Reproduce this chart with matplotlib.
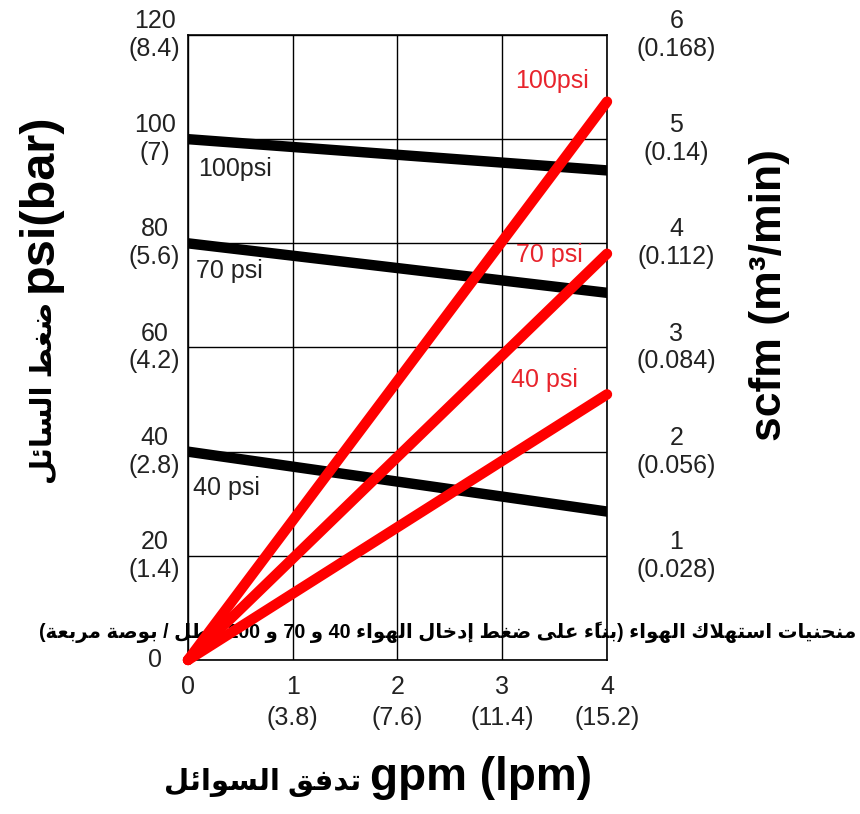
import re
import matplotlib
matplotlib.use("Agg")
import matplotlib.pyplot as plt

plt.rcParams['font.family'] = ['Liberation Sans', 'DejaVu Sans']

# data
gpm = [0, 4]
psi_100 = [100, 94]
psi_70 = [80, 70.5]
psi_40 = [40, 28.5]
scfm_100 = [0, 5.36]
scfm_70 = [0, 3.9]
scfm_40 = [0, 2.55]

psi_ticks = [0, 20, 40, 60, 80, 100, 120]
psi_labels = ["0", "20\n(1.4)", "40\n(2.8)", "60\n(4.2)", "80\n(5.6)", "100\n(7)", "120\n(8.4)"]
gpm_ticks = [0, 1, 2, 3, 4]
gpm_labels = ["0", "1\n(3.8)", "2\n(7.6)", "3\n(11.4)", "4\n(15.2)"]
scfm_ticks = [1, 2, 3, 4, 5, 6]
scfm_labels = ["1\n(0.028)", "2\n(0.056)", "3\n(0.084)", "4\n(0.112)", "5\n(0.14)", "6\n(0.168)"]

ylabel_ar = "ضغط السائل"
xlabel_ar = "تدفق السوائل"
note_ar = "منحنيات استهلاك الهواء (بناءً على ضغط إدخال الهواء 40 و 70 و 100 رطل / بوصة مربعة)"


# --- tiny arabic shaper (matplotlib has no shaping / bidi) ---
FORMS = {}
for ch, start, n in [
    ('\u0621', 0xFE80, 1), ('\u0622', 0xFE81, 2), ('\u0623', 0xFE83, 2),
    ('\u0624', 0xFE85, 2), ('\u0625', 0xFE87, 2), ('\u0626', 0xFE89, 4),
    ('\u0627', 0xFE8D, 2), ('\u0628', 0xFE8F, 4), ('\u0629', 0xFE93, 2),
    ('\u062A', 0xFE95, 4), ('\u062B', 0xFE99, 4), ('\u062C', 0xFE9D, 4),
    ('\u062D', 0xFEA1, 4), ('\u062E', 0xFEA5, 4), ('\u062F', 0xFEA9, 2),
    ('\u0630', 0xFEAB, 2), ('\u0631', 0xFEAD, 2), ('\u0632', 0xFEAF, 2),
    ('\u0633', 0xFEB1, 4), ('\u0634', 0xFEB5, 4), ('\u0635', 0xFEB9, 4),
    ('\u0636', 0xFEBD, 4), ('\u0637', 0xFEC1, 4), ('\u0638', 0xFEC5, 4),
    ('\u0639', 0xFEC9, 4), ('\u063A', 0xFECD, 4), ('\u0641', 0xFED1, 4),
    ('\u0642', 0xFED5, 4), ('\u0643', 0xFED9, 4), ('\u0644', 0xFEDD, 4),
    ('\u0645', 0xFEE1, 4), ('\u0646', 0xFEE5, 4), ('\u0647', 0xFEE9, 4),
    ('\u0648', 0xFEED, 2), ('\u0649', 0xFEEF, 2), ('\u064A', 0xFEF1, 4)]:
    FORMS[ch] = (start, n)
LAM_ALEF = {'\u0627': 0xFEFB, '\u0623': 0xFEF7, '\u0625': 0xFEF9, '\u0622': 0xFEF5}


def is_mark(c):
    return '\u064B' <= c <= '\u0652'


def neighbour(s, i, step):
    j = i + step
    while 0 <= j < len(s) and is_mark(s[j]):
        j += step
    return s[j] if 0 <= j < len(s) else None


def shape(s):
    out = []
    i = 0
    while i < len(s):
        c = s[i]
        if c not in FORMS:
            out.append(c)
            i += 1
            continue
        prev = neighbour(s, i, -1)
        joins_prev = prev in FORMS and FORMS[prev][1] == 4
        nxt = neighbour(s, i, 1)
        if c == '\u0644' and nxt in LAM_ALEF:
            out.append(chr(LAM_ALEF[nxt] + (1 if joins_prev else 0)))
            i += 2
            continue
        start, n = FORMS[c]
        joins_next = n == 4 and nxt in FORMS and FORMS[nxt][1] > 1
        if n == 1:
            k = 0
        elif joins_prev and joins_next:
            k = 3
        elif joins_next:
            k = 2
        elif joins_prev:
            k = 1
        else:
            k = 0
        out.append(chr(start + k))
        i += 1
    return ''.join(out)


def vis(s):
    # shaped right-to-left text -> left-to-right glyph order
    shaped = shape(s)
    clusters = []
    for c in shaped:
        if is_mark(c) and clusters:
            clusters[-1] += c
        else:
            clusters.append(c)
    v = ''.join(clusters[::-1])
    v = v.translate(str.maketrans('()', ')('))
    return re.sub(r'\d+', lambda m: m.group()[::-1], v)


fig = plt.figure(figsize=(8.6, 8.14), dpi=100)
ax = fig.add_axes([0.2186, 0.1892, 0.4872, 0.7678])
ax.set_xlim(0, 4)
ax.set_ylim(0, 120)
ax.grid(True, color='black', lw=1.0)
for sp in ax.spines.values():
    sp.set_linewidth(1.2)

ax.set_xticks(gpm_ticks)
ax.set_xticklabels(gpm_labels, fontsize=18, color='#222222', linespacing=1.38)
ax.set_yticks(psi_ticks)
ax.set_yticklabels(psi_labels, fontsize=18, color='#222222', ha='center', va='center')
ax.tick_params(axis='x', length=0, pad=10.5)
ax.tick_params(axis='y', length=0, pad=24)

ax.plot(gpm, psi_100, color='black', lw=7.5, solid_capstyle='round')
ax.plot(gpm, psi_70, color='black', lw=7.5, solid_capstyle='round')
ax.plot(gpm, psi_40, color='black', lw=7.5, solid_capstyle='round')
ax.text(0.095, 94.2, "100psi", fontsize=18, color='#222222', va='center')
ax.text(0.076, 74.6, "70 psi", fontsize=18, color='#222222', va='center')
ax.text(0.05, 33, "40 psi", fontsize=18, color='#222222', va='center')

ax.text(3.12, 111.2, "100psi", fontsize=18, color='#e8242c', va='center')
ax.text(3.13, 77.7, "70 psi", fontsize=18, color='#e8242c', va='center')
ax.text(3.08, 53.7, "40 psi", fontsize=18, color='#e8242c', va='center')

ax.text(2.48, 5.4, vis(note_ar), fontsize=14.2, fontweight='bold', ha='center',
        va='center', clip_on=False, zorder=1)

ax2 = ax.twinx()
ax2.set_ylim(0, 6)
ax2.set_yticks(scfm_ticks)
ax2.set_yticklabels(scfm_labels, fontsize=18, color='#222222', ha='center', va='center')
ax2.tick_params(axis='y', length=0, pad=50)
ax2.plot(gpm, scfm_100, color='#ff0000', lw=7.5, solid_capstyle='round', clip_on=False)
ax2.plot(gpm, scfm_70, color='#ff0000', lw=7.5, solid_capstyle='round', clip_on=False)
ax2.plot(gpm, scfm_40, color='#ff0000', lw=7.5, solid_capstyle='round', clip_on=False)
for sp in ax2.spines.values():
    sp.set_visible(False)

# left axis title: arabic part (bottom) + latin part (top)
fig.text(0.0605, 1 - 292 / 814, "psi(bar)", rotation=90, rotation_mode='anchor',
         fontsize=35, fontweight='bold', ha='left', va='baseline')
fig.text(0.0605, 1 - 302 / 814, vis(ylabel_ar), rotation=90, rotation_mode='anchor',
         fontsize=21, fontweight='bold', ha='right', va='baseline')
fig.text(0.895, 0.6376, "scfm (m³/min)", rotation=90, fontsize=32,
         fontweight='bold', ha='center', va='center')
# bottom axis title
fig.text(370 / 860, 0.0295, "gpm (lpm)", fontsize=33, fontweight='bold',
         ha='left', va='baseline')
fig.text(361 / 860, 0.0295, vis(xlabel_ar), fontsize=21, fontweight='bold',
         ha='right', va='baseline')

fig.savefig("out.png", dpi=100)
